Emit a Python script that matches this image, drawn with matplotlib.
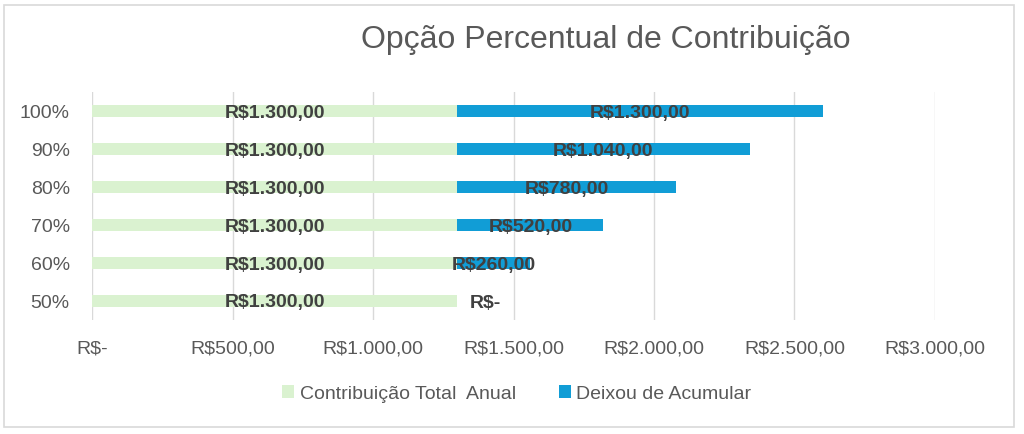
import matplotlib
matplotlib.use("Agg")
import matplotlib.pyplot as plt
from matplotlib.patches import Rectangle
from matplotlib.ticker import FuncFormatter

categories = ["50%", "60%", "70%", "80%", "90%", "100%"]
contribuicao = [1300, 1300, 1300, 1300, 1300, 1300]
deixou = [0, 260, 520, 780, 1040, 1300]
xticks = [0, 500, 1000, 1500, 2000, 2500, 3000]

GREEN = "#daf2d0"
BLUE = "#119dd6"
GRAY = "#595959"
DARK = "#404040"

plt.rcParams["font.family"] = ["Liberation Sans", "DejaVu Sans"]


def brl(v):
    if v == 0:
        return "R$-"
    s = f"{v:,.2f}"
    s = s.replace(",", "X").replace(".", ",").replace("X", ".")
    return "R$" + s


fig = plt.figure(figsize=(10.24, 4.34), dpi=100)
fig.patches.append(Rectangle((4 / 1024, 1 - 427 / 434), 1010 / 1024, 422 / 434,
                             transform=fig.transFigure, fill=False,
                             edgecolor="#d9d9d9", linewidth=1.2))

ax = fig.add_axes([92 / 1024, 1 - 320 / 434, 843 / 1024, 228 / 434])
y = list(range(len(categories)))
h = 0.34
b1 = ax.barh(y, contribuicao, height=h, color=GREEN, label="Contribuição Total  Anual", zorder=3)
b2 = ax.barh(y, deixou, left=contribuicao, height=h, color=BLUE, label="Deixou de Acumular", zorder=3)

lab_kw = dict(ha="center", va="center_baseline", fontsize=14, fontweight="bold", color=DARK, zorder=4)
for yi, c, d in zip(y, contribuicao, deixou):
    ax.text(c / 2, yi, brl(c), **lab_kw)
    if d > 0:
        ax.text(c + d / 2, yi, brl(d), **lab_kw)
    else:
        ax.text(c + 100, yi, brl(d), **lab_kw)

ax.set_xlim(0, 3000)
ax.set_ylim(-0.5, len(categories) - 0.5)
ax.set_xticks(xticks)
ax.xaxis.set_major_formatter(FuncFormatter(lambda v, p: brl(v)))
ax.set_yticks(y)
ax.set_yticklabels(categories)
ax.grid(axis="x", color="#d9d9d9", linewidth=1, zorder=0)
for s in ax.spines.values():
    s.set_visible(False)
ax.tick_params(axis="both", length=0, colors=GRAY, labelsize=14)
ax.tick_params(axis="x", pad=15)
ax.tick_params(axis="y", pad=16)

fig.text(606 / 1024, 1 - 40 / 434, "Opção Percentual de Contribuição", ha="center", va="center",
         fontsize=23, color=GRAY)

leg = fig.legend(handles=[b1, b2], loc="center", bbox_to_anchor=(517 / 1024, 1 - 394 / 434),
                 ncol=2, frameon=False, fontsize=14, handlelength=0.6, handleheight=0.6,
                 handletextpad=0.3, columnspacing=2.2)
for t in leg.get_texts():
    t.set_color(GRAY)

fig.savefig("out.png", dpi=100)
